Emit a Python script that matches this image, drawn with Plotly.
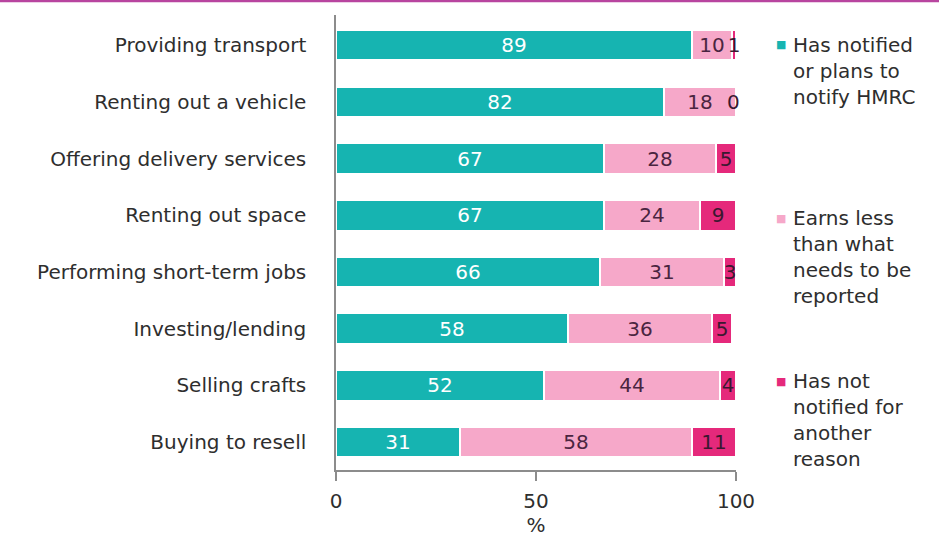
import plotly.graph_objects as go

# Survey answers by activity (% of respondents)
activities = [
    "Providing transport",
    "Renting out a vehicle",
    "Offering delivery services",
    "Renting out space",
    "Performing short-term jobs",
    "Investing/lending",
    "Selling crafts",
    "Buying to resell",
]
notified = [89, 82, 67, 67, 66, 58, 52, 31]
earns_less = [10, 18, 28, 24, 31, 36, 44, 58]
not_notified = [1, 0, 5, 9, 3, 5, 4, 11]

series_names = [
    "Has notified<br>or plans to<br>notify HMRC",
    "Earns less<br>than what<br>needs to be<br>reported",
    "Has not<br>notified for<br>another<br>reason",
]
x_ticks = [0, 50, 100]

TEAL = "#16b4b1"
PINK = "#f6a8c9"
MAGENTA = "#e5297b"
FONT = "DejaVu Sans"
TXT = "#2e2e2e"
FS = 20

W, H = 939, 539
L, R, T, B = 336, 203, 15, 69
PW, PH = W - L - R, H - T - B


def px_x(px):
    return (px - L) / PW


def px_y(py):
    return (H - B - py) / PH


series = [
    (notified, TEAL, "white"),
    (earns_less, PINK, "#4a2540"),
    (not_notified, MAGENTA, "#3a1830"),
]

fig = go.Figure()
for vals, color, tcol in series:
    fig.add_trace(go.Bar(
        y=activities, x=vals, orientation="h",
        marker=dict(color=color, line=dict(color="white", width=1.5)),
        text=[str(v) for v in vals],
        textposition="inside", insidetextanchor="middle", textangle=0,
        textfont=dict(family=FONT, size=FS, color=tcol),
        cliponaxis=False, showlegend=False,
    ))

# zero-width segments still get their value printed at the bar end
for vals, color, tcol in series:
    for i, v in enumerate(vals):
        if v == 0:
            end = notified[i] + earns_less[i] + not_notified[i]
            fig.add_annotation(x=end, y=activities[i], text=str(v),
                               showarrow=False, xanchor="center", xshift=-3,
                               font=dict(family=FONT, size=FS, color=tcol))

fig.update_layout(
    width=W, height=H,
    margin=dict(l=L, r=R, t=T, b=B),
    barmode="stack", bargap=0.47,
    plot_bgcolor="white", paper_bgcolor="white",
    uniformtext=dict(minsize=FS, mode="show"),
    font=dict(family=FONT, size=FS, color=TXT),
    xaxis=dict(
        range=[0, 100], tickvals=x_ticks, ticktext=[str(t) for t in x_ticks],
        showgrid=False, zeroline=False, automargin=False,
        showline=True, linecolor="#8c8c8c", linewidth=1.5,
        ticks="outside", ticklen=9, tickcolor="#8c8c8c", tickwidth=1.5,
        ticklabelstandoff=3,
        tickfont=dict(family=FONT, size=FS, color=TXT),
        title=dict(text="%", standoff=6, font=dict(family=FONT, size=FS, color=TXT)),
    ),
    yaxis=dict(
        range=[len(activities) - 0.51, -0.53],
        showgrid=False, zeroline=False, automargin=False,
        showline=True, linecolor="#8c8c8c", linewidth=1.5,
        ticks="", ticklabelstandoff=24,
        tickfont=dict(family=FONT, size=FS, color=TXT),
    ),
)

# magenta rule along the top edge
fig.add_shape(type="line", xref="paper", yref="paper",
              x0=px_x(0), x1=px_x(W), y0=px_y(1), y1=px_y(1),
              line=dict(color="#b8459f", width=2.5))

# legend: coloured squares with wrapped captions
legend_tops = [45, 218, 381]
for name, color, top in zip(series_names, [TEAL, PINK, MAGENTA], legend_tops):
    n = name.count("<br>") + 1
    centre = top + (n - 1) * FS * 1.3 / 2
    fig.add_annotation(xref="paper", yref="paper", x=px_x(791), y=px_y(centre),
                       xanchor="left", yanchor="middle", align="left",
                       text=name, showarrow=False,
                       font=dict(family=FONT, size=FS, color=TXT))
    fig.add_annotation(xref="paper", yref="paper", x=px_x(781), y=px_y(top),
                       xanchor="center", yanchor="middle",
                       text="■", showarrow=False,
                       font=dict(family=FONT, size=11, color=color))

fig.write_html("out.html")
